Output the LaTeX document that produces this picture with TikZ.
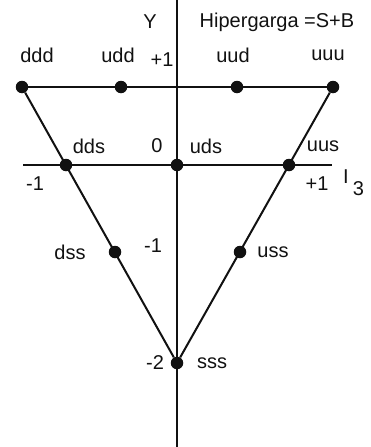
\documentclass[tikz,border=0pt]{standalone}
\usepackage{fontspec}
\setmainfont{Liberation Sans}
\usepackage{xcolor}
\definecolor{InkBlack}{HTML}{111111}
\tikzset{
    % Quark points on the weight diagram
    quark/.style={
        circle,
        fill=InkBlack,
        inner sep=0pt,
        minimum size=12.5pt
    },
    % Text labels
    qlabel/.style={
        font=\fontsize{20}{23}\selectfont,
        text=InkBlack,
        inner sep=0pt
    },
    % Lines
    edge/.style={
        line width=2pt,
        draw=InkBlack
    },
    axis/.style={
        line width=1.5pt,
        draw=InkBlack
    }
}
\begin{document}
\begin{tikzpicture}[x=1pt, y=-1pt]
    \useasboundingbox (0,0) rectangle (370,447);

    % axes
    \coordinate (ytop) at (177,0);
    \coordinate (ybot) at (177,447);
    \coordinate (xleft) at (23,165);
    \coordinate (xright) at (332,165);
    \draw[axis] (ytop) -- (ybot);
    \draw[axis] (xleft) -- (xright);

    % decuplet points
    \node[quark] (ddd) at (22,87) {};
    \node[quark] (udd) at (121,87) {};
    \node[quark] (uud) at (237,87) {};
    \node[quark] (uuu) at (333,87) {};
    \node[quark] (dds) at (66,165) {};
    \node[quark] (uds) at (177,165) {};
    \node[quark] (uus) at (289,165) {};
    \node[quark] (dss) at (115,252) {};
    \node[quark] (uss) at (240,252) {};
    \node[quark] (sss) at (177,363) {};

    \draw[edge] (ddd) -- (uuu);
    \draw[edge] (ddd) -- (sss);
    \draw[edge] (uuu) -- (sss);

    % quark names
    \node[qlabel] at (37,55) {ddd};
    \node[qlabel] at (118,55) {udd};
    \node[qlabel] at (233,55) {uud};
    \node[qlabel] at (328,55) {uuu};
    \node[qlabel] at (89,146) {dds};
    \node[qlabel] at (206,146) {uds};
    \node[qlabel] at (323,146) {uus};
    \node[qlabel] at (70,252) {dss};
    \node[qlabel] at (273,252) {uss};
    \node[qlabel] at (212,363) {sss};

    % axis values
    \node[qlabel] (ylab) at (150,22) {Y};
    \node[qlabel] (hyper) at (277,22) {Hipergarga =S+B};
    \node[qlabel] at (162,60) {+1};
    \node[qlabel] at (157,146) {0};
    \node[qlabel] at (35,184) {-1};
    \node[qlabel] at (317,184) {+1};
    \node[qlabel, anchor=west] (ithree) at (343,183) {I\hspace{4pt}\raisebox{-0.6em}{3}};
    \node[qlabel] at (153,246) {-1};
    \node[qlabel] at (155,363) {-2};
\end{tikzpicture}
\end{document}
